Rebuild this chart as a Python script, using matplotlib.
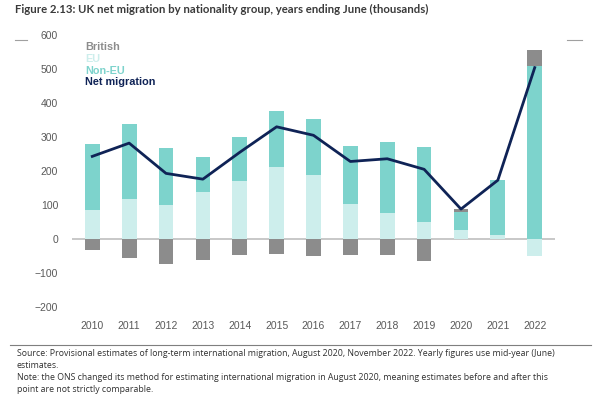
import matplotlib
matplotlib.use("Agg")
import matplotlib.pyplot as plt
import numpy as np

years = ["2010", "2011", "2012", "2013", "2014", "2015", "2016", "2017",
         "2018", "2019", "2020", "2021", "2022"]
eu = [85, 118, 100, 138, 172, 212, 188, 104, 76, 50, 26, 12, -51]
non_eu = [195, 220, 168, 103, 128, 164, 165, 169, 209, 220, 54, 162, 509]
british = [-32, -55, -73, -62, -48, -45, -50, -48, -48, -65, 8, -1, 47]
net = [243, 282, 193, 176, 255, 330, 305, 228, 236, 205, 88, 173, 504]

c_brit = "#8c8c8c"
c_eu = "#cdeeec"
c_non = "#7dd3cc"
c_net = "#0f2356"
c_tick = "#595959"

plt.rcParams['font.family'] = ['Liberation Sans', 'DejaVu Sans']

fig = plt.figure(figsize=(6, 4), dpi=100)
ax = fig.add_axes([0.12, 0.2325, 0.805, 0.68])

x = np.arange(len(years))
w = 0.4
eu_a = np.array(eu, float)
non_a = np.array(non_eu, float)
br_a = np.array(british, float)

pos_base = np.zeros(len(x))
neg_base = np.zeros(len(x))
for vals, col in [(eu_a, c_eu), (non_a, c_non), (br_a, c_brit)]:
    bottoms = np.where(vals >= 0, pos_base, neg_base)
    ax.bar(x, vals, w, bottom=bottoms, color=col, zorder=2)
    pos_base = pos_base + np.where(vals >= 0, vals, 0)
    neg_base = neg_base + np.where(vals < 0, vals, 0)

ax.plot(x, net, color=c_net, lw=2, zorder=3)
ax.axhline(0, color="#bfbfbf", lw=1.2, zorder=1)

ax.set_xlim(-0.55, len(x) - 0.45)
ax.set_ylim(-200, 600)
ax.set_yticks(range(-200, 601, 100))
ax.set_xticks(x)
ax.set_xticklabels(years)
ax.tick_params(axis="both", length=0, labelsize=7.5, colors=c_tick)
ax.tick_params(axis="x", pad=10)
ax.tick_params(axis="y", pad=10)
for s in ax.spines.values():
    s.set_visible(False)

leg = [("British", c_brit), ("EU", c_eu), ("Non-EU", c_non), ("Net migration", c_net)]
for i, (t, c) in enumerate(leg):
    fig.text(0.142, 1 - (47 + i * 11.8) / 400, t, color=c, fontsize=7.8,
             fontweight="bold", va="center", ha="left")

fig.text(0.025, 1 - 9 / 400, "Figure 2.13: UK net migration by nationality group, years ending June (thousands)",
         fontsize=8.2, fontweight="bold", color="#3a3a3a", va="center", ha="left",
         family="Lato")
fig.add_artist(plt.Line2D([0.025, 0.045], [1 - 40 / 400] * 2, color="#a0a0a0", lw=0.8))
fig.add_artist(plt.Line2D([0.945, 0.97], [1 - 40 / 400] * 2, color="#a0a0a0", lw=0.8))
fig.add_artist(plt.Line2D([0.017, 0.985], [1 - 345 / 400] * 2, color="#7f7f7f", lw=0.8))

notes = [
    "Source: Provisional estimates of long-term international migration, August 2020, November 2022. Yearly figures use mid-year (June)",
    "estimates.",
    "Note: the ONS changed its method for estimating international migration in August 2020, meaning estimates before and after this",
    "point are not strictly comparable.",
]
for i, t in enumerate(notes):
    fig.text(0.028, 1 - (353 + i * 12.3) / 400, t, fontsize=6.3, color="#303030",
             va="center", ha="left", family="Open Sans")

fig.savefig("out.png", dpi=100)
